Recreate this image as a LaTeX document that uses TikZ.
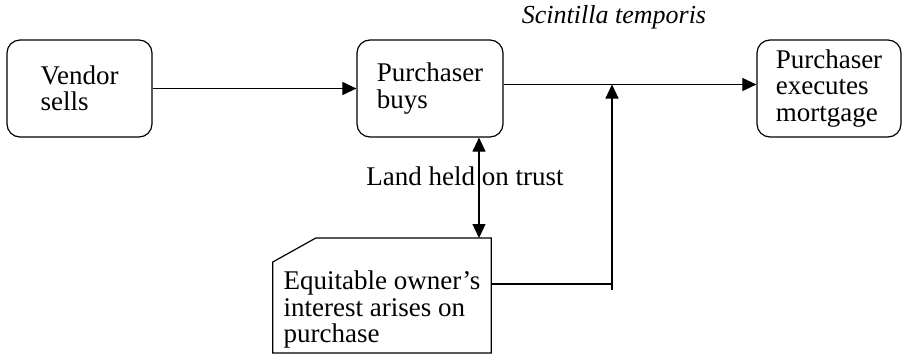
\documentclass[tikz,border=0pt]{standalone}
\usepackage{fontspec}
\setmainfont{Liberation Serif}
\usetikzlibrary{arrows.meta,calc}
\tikzset{
  every picture/.style={x=1pt,y=-1pt},
  txt/.style={font=\fontsize{27}{26.5}\selectfont, align=left, inner sep=0pt},
  rbox/.style={txt, draw, line width=1.2pt, rounded corners=13pt, minimum height=97pt},
  conn/.style={line width=1.1pt},
  arr/.style={conn, -{Triangle[length=14pt,width=13pt]}},
  arrboth/.style={conn, {Triangle[length=14pt,width=13pt]}-{Triangle[length=14pt,width=13pt]}},
}
\begin{document}
\begin{tikzpicture}
\useasboundingbox (0,0) rectangle (903,354);
\node[rbox, minimum width=145pt] (v) at (79.5,88.5) {Vendor\\sells};
\node[rbox, minimum width=146pt] (p) at (430,88.5) {Purchaser\\buys};
\node[rbox, minimum width=144pt] (m) at (829,88.5) {Purchaser\\executes\\mortgage};
\node[txt, minimum width=218pt] (e) at (382,310) {Equitable owner’s\\interest arises on\\purchase};
\draw[line width=1.2pt] ([yshift=72pt]e.east) -- ([yshift=-43pt]e.east) -- ([yshift=-43pt]e.west)
  -- ([yshift=48pt]e.west) -- ([yshift=72pt,xshift=43pt]e.west) -- cycle;
\coordinate (etop) at ([yshift=72pt]e.east);
\node[txt, font=\fontsize{26}{26.5}\selectfont\itshape, anchor=base] (s) at (614,23) {Scintilla temporis};
\node[txt, anchor=base] (l) at (465,185) {Land held on trust};
\coordinate (k) at (612,290);
\coordinate (j) at (612,84.5);
\draw[arr] (v) -- (p);
\draw[arr] ([yshift=4pt]p.east) -- ([yshift=4pt]m.west);
\draw[conn] ([yshift=26pt]e.east) -- ([yshift=26pt]e.east -| k);
\draw[arr] (k) -- (j);
\draw[arrboth] ([xshift=49pt]p.south) -- ([xshift=49pt]p.south |- etop);
\end{tikzpicture}
\end{document}
